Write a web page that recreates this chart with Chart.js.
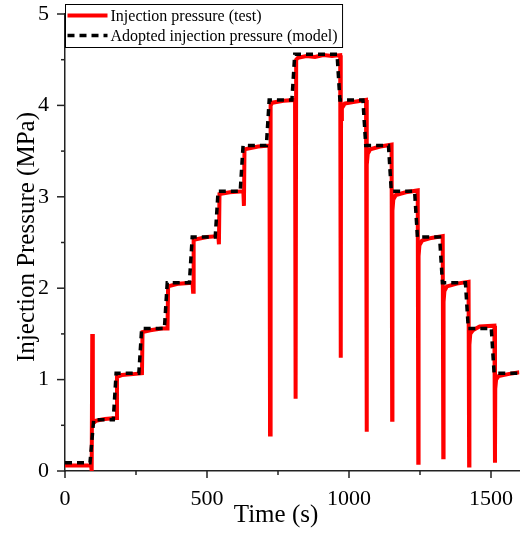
<!DOCTYPE html>
<html>
<head>
<meta charset="utf-8">
<script src="https://cdn.jsdelivr.net/npm/chart.js@4.4.0/dist/chart.umd.min.js"></script>
<style>
  html, body { margin: 0; padding: 0; background: #fff; }
  canvas { display: block; }
</style>
</head>
<body>
<canvas id="pressureChart" width="521" height="533"></canvas>
<script>
// Injection pressure measured in the test (red), time in s, pressure in MPa
const testTime = [0, 40, 92, 94, 96, 98, 110, 140, 181,
  183, 200, 240, 271,
  273, 300, 340, 361,
  363, 400, 449, 451,
  453, 500, 540, 542,
  544, 580, 628, 630,
  632, 680, 720, 722,
  724, 730, 770, 810, 812,
  814, 820, 850, 880, 910, 940, 969, 971,
  972, 975, 985, 1020, 1060, 1062,
  1063, 1066, 1075, 1110, 1150, 1152,
  1153, 1156, 1165, 1200, 1242, 1244,
  1245, 1248, 1257, 1290, 1330, 1332,
  1333, 1336, 1345, 1380, 1421, 1423,
  1424, 1427, 1436, 1460, 1512, 1514,
  1515, 1518, 1527, 1560, 1600];
const testPressure = [0.06, 0.06, 0.06, 0.0, 1.5, 0.52, 0.55, 0.57, 0.58,
  1.03, 1.05, 1.06, 1.07,
  1.52, 1.54, 1.56, 1.56,
  2.02, 2.05, 2.06, 1.96,
  2.53, 2.56, 2.57, 2.48,
  3.03, 3.05, 3.06, 2.90,
  3.52, 3.55, 3.56, 0.40,
  4.00, 4.03, 4.05, 4.06, 0.79,
  4.50, 4.52, 4.54, 4.53, 4.55, 4.54, 4.55, 1.24,
  3.85, 3.97, 4.02, 4.04, 4.06, 0.43,
  3.35, 3.47, 3.52, 3.55, 3.57, 0.56,
  2.85, 2.97, 3.02, 3.05, 3.07, 0.09,
  2.35, 2.47, 2.52, 2.55, 2.57, 0.15,
  1.85, 1.97, 2.02, 2.05, 2.07, 0.06,
  1.38, 1.50, 1.54, 1.58, 1.59, 0.09,
  0.90, 1.00, 1.04, 1.06, 1.08];

// Adopted injection pressure used in the model (black dashed)
const modelTime = [0, 88, 101, 170, 180, 260, 270, 350, 360, 438, 448, 529, 539,
  617, 627, 709, 719, 799, 809, 958, 968, 1049, 1059, 1139, 1149,
  1231, 1241, 1319, 1329, 1410, 1420, 1501, 1511, 1600];
const modelPressure = [0.09, 0.09, 0.56, 0.56, 1.07, 1.07, 1.56, 1.56, 2.06, 2.06, 2.56, 2.56, 3.06,
  3.06, 3.56, 3.56, 4.06, 4.06, 4.56, 4.56, 4.06, 4.06, 3.56, 3.56, 3.06,
  3.06, 2.56, 2.56, 2.06, 2.06, 1.56, 1.56, 1.07, 1.07];

const xTickLabels = [0, 500, 1000, 1500];
const yTickLabels = [0, 1, 2, 3, 4, 5];
const seriesLabels = ["Injection pressure (test)", "Adopted injection pressure (model)"];
const xTitle = "Time (s)";
const yTitle = "Injection Pressure (MPa)";

const SERIF = "'Liberation Serif', 'Times New Roman', serif";

function toPoints(ts, ps) {
  return ts.map((t, i) => ({ x: t, y: ps[i] }));
}

// fixed axis box sizes, no extra label padding
function fixBox(size) {
  return s => {
    if (s.isHorizontal()) s.height = size; else s.width = size;
    s.paddingLeft = s.paddingRight = s.paddingTop = s.paddingBottom = 0;
  };
}

// outward major/minor ticks, axis titles and the boxed legend
const decorPlugin = {
  id: "decor",
  afterDraw(chart) {
    const ctx = chart.ctx;
    const area = chart.chartArea;
    const xs = chart.scales.x, ys = chart.scales.y;
    ctx.save();
    ctx.strokeStyle = "#222";
    ctx.lineWidth = 1.5;
    xs.ticks.forEach(t => {
      const px = xs.getPixelForValue(t.value);
      const len = xTickLabels.includes(t.value) ? 7 : 4;
      ctx.beginPath();
      ctx.moveTo(px, area.bottom);
      ctx.lineTo(px, area.bottom + len);
      ctx.stroke();
    });
    ys.ticks.forEach(t => {
      const py = ys.getPixelForValue(t.value);
      const len = yTickLabels.includes(t.value) ? 8 : 4;
      ctx.beginPath();
      ctx.moveTo(area.left, py);
      ctx.lineTo(area.left - len, py);
      ctx.stroke();
    });

    // axis titles
    ctx.fillStyle = "#000";
    ctx.font = "25px " + SERIF;
    ctx.textAlign = "center";
    ctx.textBaseline = "middle";
    ctx.fillText(xTitle, area.left + 211, area.bottom + 44);
    ctx.save();
    ctx.translate(area.left - 38, area.top + 223);
    ctx.rotate(-Math.PI / 2);
    ctx.fillText(yTitle, 0, 0);
    ctx.restore();

    // legend
    ctx.font = "16px " + SERIF;
    ctx.textAlign = "left";
    const ds = chart.data.datasets;
    const textW = Math.max(...ds.map(d => ctx.measureText(d.label).width));
    const bx = Math.round(area.left) + 0.5, by = Math.round(area.top) - 10 + 0.5;
    ctx.fillStyle = "#fff";
    ctx.fillRect(bx, by, 45 + textW + 5, 43);
    ctx.strokeStyle = "#000";
    ctx.lineWidth = 1;
    ctx.strokeRect(bx, by, 45 + textW + 5, 43);
    ds.forEach((d, i) => {
      const ly = by + 11 + i * 20;
      ctx.save();
      ctx.strokeStyle = d.borderColor;
      ctx.lineWidth = d.borderWidth;
      ctx.setLineDash(d.borderDash || []);
      ctx.beginPath();
      ctx.moveTo(bx + 2, ly);
      ctx.lineTo(bx + 42, ly);
      ctx.stroke();
      ctx.restore();
      ctx.fillStyle = "#000";
      ctx.fillText(d.label, bx + 45, ly + 1);
    });
    ctx.restore();
  }
};

new Chart(document.getElementById("pressureChart"), {
  type: "line",
  data: {
    datasets: [
      {
        label: seriesLabels[0],
        data: toPoints(testTime, testPressure),
        borderColor: "#ff0000",
        borderWidth: 4,
        pointRadius: 0,
        tension: 0,
        order: 2
      },
      {
        label: seriesLabels[1],
        data: toPoints(modelTime, modelPressure),
        borderColor: "#000000",
        borderWidth: 3.5,
        borderDash: [7, 5],
        pointRadius: 0,
        tension: 0,
        order: 1
      }
    ]
  },
  options: {
    responsive: false,
    animation: false,
    devicePixelRatio: 1,
    layout: { padding: { top: 14, right: 1.6, left: 0, bottom: 0 } },
    plugins: { legend: { display: false }, tooltip: { enabled: false } },
    scales: {
      x: {
        type: "linear",
        min: 0,
        max: 1600,
        afterFit: fixBox(62),
        grid: { display: false, drawTicks: false },
        border: { color: "#222", width: 1.5 },
        ticks: {
          stepSize: 250,
          includeBounds: false,
          autoSkip: false,
          maxRotation: 0,
          padding: 15,
          color: "#000",
          font: { family: SERIF, size: 22 },
          callback: v => xTickLabels.includes(v) ? String(v) : ""
        }
      },
      y: {
        type: "linear",
        min: 0,
        max: 5,
        afterFit: fixBox(65),
        grid: { display: false, drawTicks: false },
        border: { color: "#222", width: 1.5 },
        ticks: {
          stepSize: 0.5,
          includeBounds: false,
          autoSkip: false,
          padding: 16,
          color: "#000",
          font: { family: SERIF, size: 22 },
          callback: v => yTickLabels.includes(v) ? String(v) : ""
        }
      }
    }
  },
  plugins: [decorPlugin]
});
</script>
</body>
</html>
